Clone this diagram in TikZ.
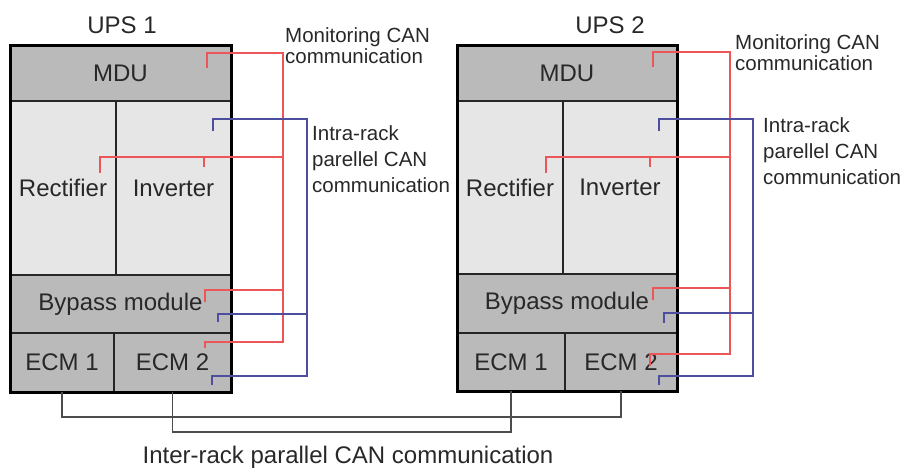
\documentclass[tikz,border=0pt]{standalone}
\usepackage{fontspec}
\setmainfont{Liberation Sans}

\definecolor{monred}{RGB}{236,86,86}
\definecolor{intrablue}{RGB}{78,78,160}
\definecolor{modgray}{RGB}{186,186,186}
\definecolor{modlight}{RGB}{230,230,230}
\definecolor{txtgray}{RGB}{40,40,40}

\begin{document}
\begin{tikzpicture}[x=1pt,y=-1pt,
  bgray/.style={draw=black!85,line width=1.5pt,fill=modgray,inner sep=0pt,outer sep=0pt,
                anchor=north west,font=\fontsize{24}{28}\selectfont,text=txtgray},
  blight/.style={bgray,fill=modlight},
  frame/.style={draw=black,line width=3pt},
  monline/.style={monred,line width=1.6pt},
  intraline/.style={intrablue,line width=1.6pt},
  interline/.style={black!70,line width=1.6pt},
  lbl/.style={font=\fontsize{20.5}{21}\selectfont,text=txtgray,align=left,
              anchor=north west,inner sep=0pt}]
\useasboundingbox (0,0) rectangle (906,467);
% UPS 1
\node[bgray,minimum width=221pt,minimum height=56pt]  (mdu1)  at (10,45)   {MDU};
\node[blight,minimum width=106pt,minimum height=174pt] (rect1) at (10,101)  {Rectifier};
\node[blight,minimum width=115pt,minimum height=174pt] (inv1)  at (116,101) {Inverter};
\node[bgray,minimum width=221pt,minimum height=58pt]  (byp1)  at (10,275)  {Bypass module};
\node[bgray,minimum width=104pt,minimum height=59pt]  (ecm1a) at (10,333)  {ECM 1};
\node[bgray,minimum width=117pt,minimum height=59pt]  (ecm1b) at (114,333) {ECM 2};
\draw[frame] (mdu1.north west) rectangle (ecm1b.south east);
\node[font=\fontsize{24}{28}\selectfont,text=txtgray] (ups1) at (122,25) {UPS 1};
% UPS 2
\node[bgray,minimum width=220pt,minimum height=56pt]  (mdu2)  at (457,45)  {MDU};
\node[blight,minimum width=106pt,minimum height=173pt] (rect2) at (457,101) {Rectifier};
\node[blight,minimum width=114pt,minimum height=173pt] (inv2)  at (563,101) {Inverter};
\node[bgray,minimum width=220pt,minimum height=59pt]  (byp2)  at (457,274) {Bypass module};
\node[bgray,minimum width=108pt,minimum height=58pt]  (ecm2a) at (457,333) {ECM 1};
\node[bgray,minimum width=112pt,minimum height=58pt]  (ecm2b) at (565,333) {ECM 2};
\draw[frame] (mdu2.north west) rectangle (ecm2b.south east);
\node[font=\fontsize{24}{28}\selectfont,text=txtgray] (ups2) at (610,25) {UPS 2};

% inter-rack parallel CAN
\draw[interline] (ecm1a.south) -- ++(0,25) -| (ecm2b.south);
\draw[interline] (ecm1b.south) -- ++(0,40) -| (ecm2a.south);
\node[font=\fontsize{24}{28}\selectfont,text=txtgray,anchor=base] (inter) at (348,463)
  {Inter-rack parallel CAN communication};

% monitoring CAN, UPS 1
\coordinate (m1top) at (283,53);
\coordinate (m1row) at (283,157);
\coordinate (m1byp) at (283,290);
\coordinate (m1bot) at (283,342);
\coordinate (m1a) at (207,68);
\coordinate (m1b) at (100,173);
\coordinate (m1c) at (204,167);
\coordinate (m1d) at (205,302);
\coordinate (m1e) at (205,348);
\draw[monline] (m1a) |- (m1top) -- (m1bot) -| (m1e);
\draw[monline] (m1b) |- (m1row);
\draw[monline] (m1c) -- (m1c |- m1row);
\draw[monline] (m1d) |- (m1byp);
% intra-rack CAN, UPS 1
\coordinate (i1top) at (307,119);
\coordinate (i1byp) at (307,314);
\coordinate (i1bot) at (307,376);
\coordinate (i1a) at (213,131);
\coordinate (i1b) at (218,322);
\coordinate (i1c) at (212,385);
\draw[intraline] (i1a) |- (i1top) -- (i1bot) -| (i1c);
\draw[intraline] (i1b) |- (i1byp);

% monitoring CAN, UPS 2
\coordinate (m2top) at (730,52);
\coordinate (m2row) at (730,157);
\coordinate (m2byp) at (730,288);
\coordinate (m2bot) at (730,354);
\coordinate (m2a) at (653,67);
\coordinate (m2b) at (546,173);
\coordinate (m2c) at (650,167);
\coordinate (m2d) at (653,300);
\coordinate (m2e) at (650,366);
\draw[monline] (m2a) |- (m2top) -- (m2bot) -| (m2e);
\draw[monline] (m2b) |- (m2row);
\draw[monline] (m2c) -- (m2c |- m2row);
\draw[monline] (m2d) |- (m2byp);
% intra-rack CAN, UPS 2
\coordinate (i2top) at (753,119);
\coordinate (i2byp) at (753,313);
\coordinate (i2bot) at (753,376);
\coordinate (i2a) at (659,131);
\coordinate (i2b) at (664,323);
\coordinate (i2c) at (659,385);
\draw[intraline] (i2a) |- (i2top) -- (i2bot) -| (i2c);
\draw[intraline] (i2b) |- (i2byp);

% labels
\node[lbl] (mon1) at (285,27) {Monitoring CAN\\communication};
\node[lbl,font=\fontsize{20.5}{26}\selectfont] (intra1) at (312,125)
  {Intra-rack\\parellel CAN\\communication};
\node[lbl] (mon2) at (735,34) {Monitoring CAN\\communication};
\node[lbl,font=\fontsize{20.5}{26}\selectfont] (intra2) at (763,117)
  {Intra-rack\\parellel CAN\\communication};
\end{tikzpicture}
\end{document}
